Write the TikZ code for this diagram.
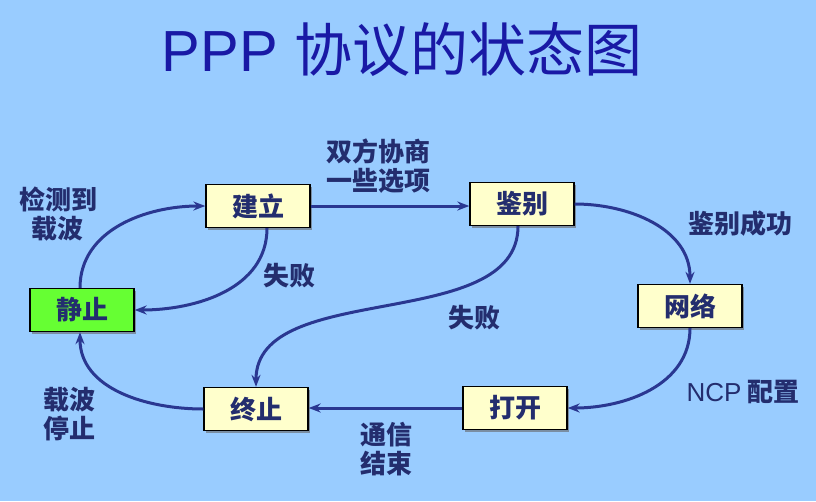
\documentclass[tikz,border=0pt]{standalone}
\usepackage{fontspec}
\setmainfont{Liberation Sans}
\newfontfamily\cjk{Noto Sans CJK SC}
\usetikzlibrary{arrows.meta,shadows}
\usetikzlibrary{positioning}

\definecolor{bgblue}{RGB}{153,204,255}
\definecolor{boxyellow}{RGB}{255,255,204}
\definecolor{boxgreen}{RGB}{102,255,51}
\definecolor{linkblue}{RGB}{42,55,145}
\definecolor{textnavy}{RGB}{35,45,110}
\definecolor{titleblue}{RGB}{25,25,165}

\begin{document}
\begin{tikzpicture} [x=1pt,y=-1pt,
  state/.style={draw=black,line width=1.3pt,fill=boxyellow,minimum width=104pt,minimum height=43pt,
    text=textnavy,font=\cjk\bfseries\fontsize{26}{26}\selectfont,
    drop shadow={shadow xshift=2pt,shadow yshift=-2pt,fill=black!60,opacity=.6}},
  lbl/.style={text=textnavy,align=center,font=\cjk\bfseries\fontsize{26}{29}\selectfont},
  link/.style={draw=linkblue,line width=3pt,-{Stealth[length=12pt,width=9pt]}}]
\useasboundingbox[fill=bgblue] (0,0) rectangle (816,501);

\node[text=titleblue,font=\fontsize{58}{58}\selectfont] (title) at (402,50) {PPP {\cjk 协议的状态图}};

\node[state,fill=boxgreen] (dead) at (82,310) {静止};
\node[state] (establish) at (258,206) {建立};
\node[state] (auth) at (522,204) {鉴别};
\node[state] (network) at (690,306) {网络};
\node[state] (open) at (515,408) {打开};
\node[state] (terminate) at (256,409) {终止};

\draw[link] ([xshift=-2pt]dead.north) to[out=90,in=180] (establish.west);
\draw[link] (establish.east) -- (auth.west |- establish.east);
\draw[link] ([xshift=9pt]establish.south) to[out=-90,in=0] (dead.east);
\draw[link] ([xshift=-4pt]auth.south) to[out=-90,in=90,looseness=.9] (terminate.north);
\draw[link] (auth.east) to[out=0,in=90] (network.north);
\draw[link] (network.south) to[out=-90,in=0] (open.east);
\draw[link] (open.west) -- (terminate.east |- open.west);
\draw[link] (terminate.west) to[out=180,in=-90] ([xshift=-2pt]dead.south);

\node[lbl] (l1) at (58,214) {检测到\\载波};
\node[lbl] (l2) at (378,166) {双方协商\\一些选项};
\node[lbl] (l3) at (289,276) {失败};
\node[lbl] (l4) at (474,318) {失败};
\node[lbl] (l5) at (740,224) {鉴别成功};
\node[lbl] (l6) at (743,392) {{\mdseries\fontspec{Liberation Sans}NCP} 配置};
\node[lbl] (l7) at (386,449) {通信\\结束};
\node[lbl] (l8) at (69,414) {载波\\停止};
\end{tikzpicture}
\end{document}
